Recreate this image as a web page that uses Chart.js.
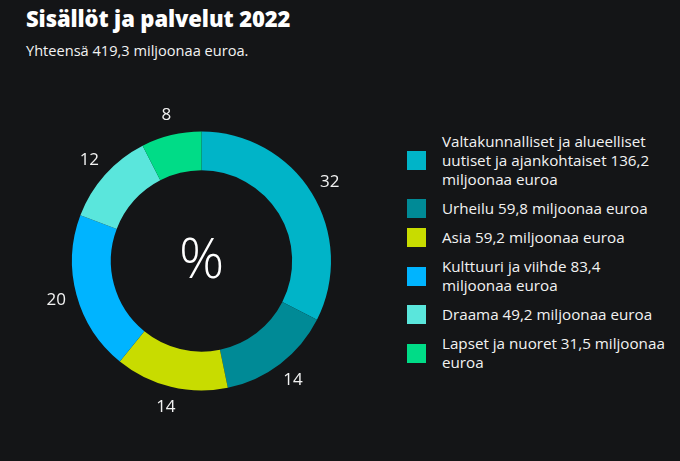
<!DOCTYPE html>
<html>
<head>
<meta charset="utf-8">
<script src="https://cdn.jsdelivr.net/npm/chart.js@4"></script>
<style>
  html, body { margin: 0; padding: 0; background: #141517; }
  body { width: 680px; height: 461px; position: relative; overflow: hidden; font-family: "Open Sans", sans-serif; color: #f2f2f2; }
  h1 { position: absolute; left: 26px; top: 3px; margin: 0; font-size: 22px; font-weight: 800; color: #fff; letter-spacing: -0.1px; }
  .sub { position: absolute; left: 26px; top: 40px; font-size: 14.6px; }
  #wrap { position: absolute; left: 0; top: 0; width: 403px; height: 461px; }
  ul { position: absolute; left: 407px; top: 132px; margin: 0; padding: 0; list-style: none; }
  li { display: flex; align-items: center; margin-bottom: 10px; font-size: 15.2px; line-height: 19px; }
  li .sw { width: 19px; height: 19px; flex: none; margin-right: 16px; }
  li .tx { width: 228px; }
</style>
</head>
<body>
<h1>Sisällöt ja palvelut 2022</h1>
<div class="sub">Yhteensä 419,3 miljoonaa euroa.</div>
<div id="wrap"><canvas id="c" width="403" height="461"></canvas></div>
<ul id="legend"></ul>
<script>
// values in million euros, share labels as shown
const categories = ['Valtakunnalliset ja alueelliset uutiset ja ajankohtaiset', 'Urheilu', 'Asia', 'Kulttuuri ja viihde', 'Draama', 'Lapset ja nuoret'];
const amounts = [136.2, 59.8, 59.2, 83.4, 49.2, 31.5];
const amountLabels = ['136,2', '59,8', '59,2', '83,4', '49,2', '31,5'];
const percentLabels = ['32', '14', '14', '20', '12', '8'];
const colors = ['#00b4c8', '#008a96', '#c8dc00', '#00b4ff', '#5ae6dc', '#00dc87'];

const legend = document.getElementById('legend');
categories.forEach((c, i) => {
  const li = document.createElement('li');
  li.innerHTML = '<span class="sw" style="background:' + colors[i] + '"></span><span class="tx">' +
    c + ' ' + amountLabels[i] + ' miljoonaa euroa</span>';
  legend.appendChild(li);
});

const outsideLabels = {
  id: 'outsideLabels',
  afterDatasetsDraw(chart) {
    const ctx = chart.ctx;
    const meta = chart.getDatasetMeta(0);
    ctx.save();
    ctx.fillStyle = '#f2f2f2';
    ctx.textAlign = 'center';
    ctx.textBaseline = 'middle';
    ctx.font = '17px "Open Sans", sans-serif';
    meta.data.forEach((arc, i) => {
      const p = arc.getProps(['x', 'y', 'startAngle', 'endAngle', 'outerRadius']);
      const a = (p.startAngle + p.endAngle) / 2;
      const r = p.outerRadius + 21;
      ctx.fillText(percentLabels[i], p.x + Math.cos(a) * r, p.y + Math.sin(a) * r);
    });
    const c = meta.data[0];
    ctx.font = '300 56px "Open Sans", sans-serif';
    ctx.fillStyle = '#ffffff';
    ctx.fillText('%', c.x, c.y + 1);
    ctx.restore();
  }
};

new Chart(document.getElementById('c').getContext('2d'), {
  type: 'doughnut',
  data: {
    labels: categories,
    datasets: [
      {
        data: amounts,
        backgroundColor: colors,
        borderWidth: 0
      }
    ]
  },
  options: {
    responsive: false,
    animation: false,
    cutout: '70%',
    layout: { padding: { left: 72, right: 72, top: 131.5, bottom: 70.5 } },
    plugins: { legend: { display: false }, tooltip: { enabled: false } }
  },
  plugins: [outsideLabels]
});
</script>
</body>
</html>
